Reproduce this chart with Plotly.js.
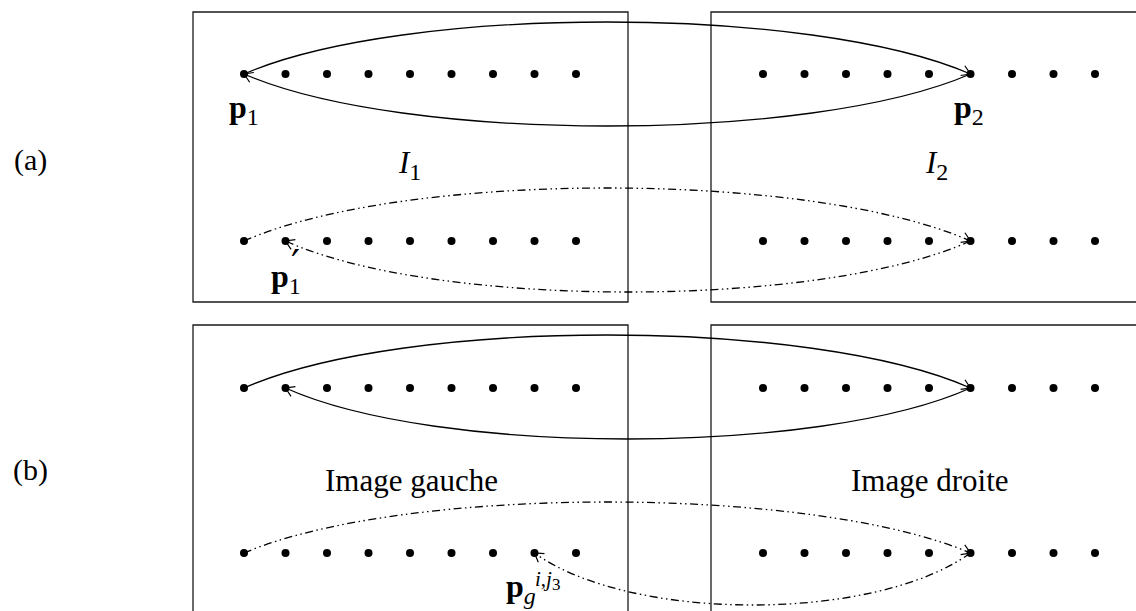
<!DOCTYPE html>
<html>
<head>
<meta charset="utf-8">
<script src="https://cdn.plot.ly/plotly-3.0.1.min.js"></script>
<style>html,body{margin:0;padding:0;background:#fff;}#chart{width:1136px;height:611px;}</style>
</head>
<body>
<div id="chart"></div>
<script>
// ---- data (positions, in picture units) ----
const leftDotX  = [244, 285.5, 327, 368.5, 410, 451.5, 493, 534.5, 576];
const rightDotX = [763, 804.5, 846, 887.5, 929, 970.5, 1012, 1053.5, 1095];
const rowY      = [74, 241, 388, 553];

// matching arcs: row, start x, end x (arrow at end), apex offset (neg = above), style
const arcRow   = [0, 0, 1, 1, 2, 2, 3, 3];
const arcFrom  = [244, 970.5, 244, 970.5, 244, 970.5, 244, 970.5];
const arcTo    = [970.5, 244, 970.5, 285.5, 970.5, 285.5, 970.5, 534.5];
const arcApex  = [-52, 52, -53, 51, -53, 51, -51, 52];
const arcStyle = ['solid', 'solid', 'dashdotdot', 'dashdotdot', 'solid', 'solid', 'dashdotdot', 'dashdotdot'];

// image frames
const frameX0 = [193, 711, 193, 711];
const frameX1 = [628, 1160, 628, 1160];
const frameY0 = [12, 12, 325, 325];
const frameY1 = [302, 302, 630, 630];

// ---- build ----
const FONT = 'Liberation Serif, Times New Roman, serif';
const dotsX = [], dotsY = [];
rowY.forEach(y => {
  leftDotX.concat(rightDotX).forEach(x => { dotsX.push(x); dotsY.push(y); });
});

const shapes = [];
for (let i = 0; i < frameX0.length; i++) {
  shapes.push({type: 'rect', xref: 'x', yref: 'y', x0: frameX0[i], x1: frameX1[i], y0: frameY0[i], y1: frameY1[i],
    line: {color: '#1a1a1a', width: 1.3}, fillcolor: 'rgba(0,0,0,0)', layer: 'below'});
}

const dashMap = {solid: 'solid', dashdotdot: '8px,3.5px,1.5px,3.5px,1.5px,3.5px'};
for (let i = 0; i < arcRow.length; i++) {
  const y = rowY[arcRow[i]];
  const x0 = arcFrom[i], x3 = arcTo[i];
  const dir = Math.sign(x3 - x0);
  const chord = Math.abs(x3 - x0);
  const a = 0.22 * chord;
  const h = arcApex[i] / 0.75;
  const c1x = x0 + dir * a, c1y = y + h;
  const c2x = x3 - dir * a, c2y = y + h;
  shapes.push({type: 'path', xref: 'x', yref: 'y',
    path: `M ${x0},${y} C ${c1x},${c1y} ${c2x},${c2y} ${x3},${y}`,
    line: {color: '#000', width: 1.3, dash: dashMap[arcStyle[i]]}});
  // open arrowhead at the end
  let bx = c2x - x3, by = c2y - y;
  const n = Math.hypot(bx, by); bx /= n; by /= n;
  const L = 10, th = 32 * Math.PI / 180;
  const r = (ang) => [x3 + L * (bx * Math.cos(ang) - by * Math.sin(ang)), y + L * (bx * Math.sin(ang) + by * Math.cos(ang))];
  const p1 = r(th), p2 = r(-th);
  shapes.push({type: 'path', xref: 'x', yref: 'y',
    path: `M ${p1[0]},${p1[1]} L ${x3},${y} L ${p2[0]},${p2[1]}`,
    line: {color: '#000', width: 1.2}});
}

const txt = (x, y, text, size, extra) => Object.assign({x, y, xref: 'x', yref: 'y', text, showarrow: false,
  font: {family: FONT, size, color: '#000'}, xanchor: 'center', yanchor: 'middle'}, extra || {});
const sub = (s) => `<sub><span style="font-size:24px">${s}</span></sub>`;

const annotations = [
  txt(30, 160, '(a)', 30),
  txt(30, 470, '(b)', 30),
  txt(409, 165, '<i>I</i>' + sub('1'), 31),
  txt(936, 165, '<i>I</i>' + sub('2'), 31),
  txt(411, 480, 'Image gauche', 31),
  txt(930, 480, 'Image droite', 31),
  txt(244, 109, '<b>p</b>' + sub('1'), 32),
  txt(969, 109, '<b>p</b>' + sub('2'), 32),
  txt(286, 278, '<b>p</b>' + sub('1'), 32),
  txt(295, 264, '′', 40, {font: {family: 'DejaVu Serif', size: 40, color: '#000'}}),
  txt(521, 588, '<b>p</b>' + sub('<i>g</i>'), 32),
  txt(547, 580, '<i>i</i>,<i>j</i><sub><span style="font-size:17px">3</span></sub>', 21)
];

const data = [{type: 'scatter', mode: 'markers', x: dotsX, y: dotsY,
  marker: {color: '#000', size: 8}, hoverinfo: 'skip', cliponaxis: false}];

const layout = {
  width: 1136, height: 611,
  margin: {l: 0, r: 0, t: 0, b: 0},
  paper_bgcolor: '#fff', plot_bgcolor: '#fff',
  showlegend: false,
  xaxis: {range: [0, 1136], visible: false, fixedrange: true},
  yaxis: {range: [611, 0], visible: false, fixedrange: true},
  shapes, annotations
};

Plotly.newPlot('chart', data, layout, {displayModeBar: false, staticPlot: true});
</script>
</body>
</html>
